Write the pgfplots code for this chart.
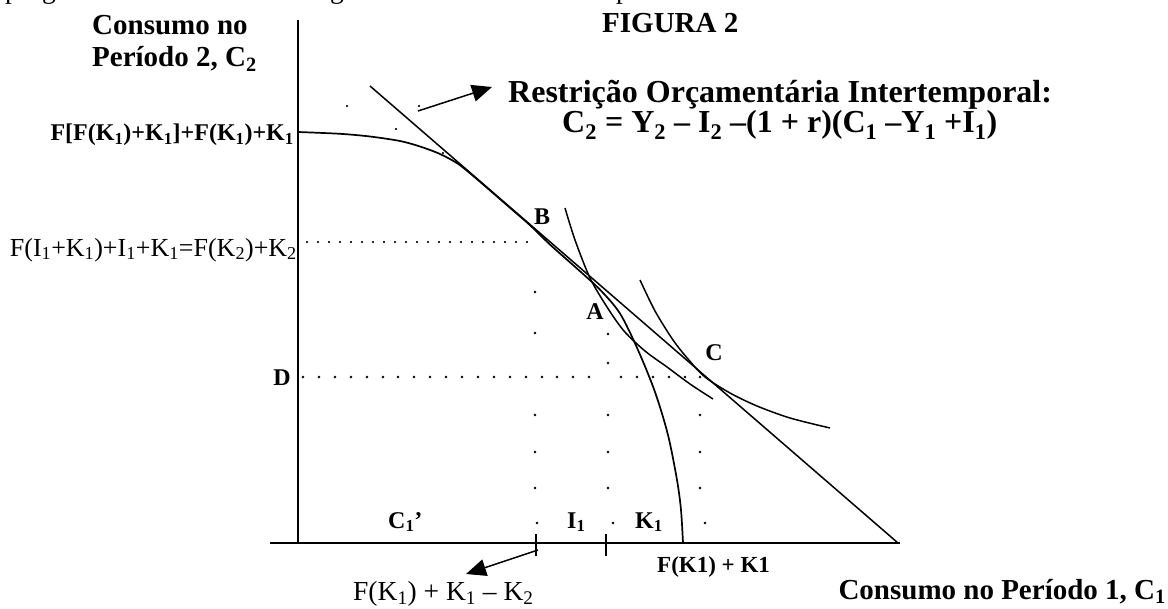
\documentclass[border=0pt]{standalone}
\usepackage{pgfplots}
\pgfplotsset{compat=1.18}
\usepackage{fontspec}
\setmainfont{Liberation Serif}
\usetikzlibrary{arrows.meta}
\newcommand\fa{\fontsize{29bp}{32bp}\selectfont\bfseries}
\newcommand\ft{\fontsize{32bp}{35bp}\selectfont\bfseries}
\newcommand\fb{\fontsize{24bp}{27bp}\selectfont\bfseries}
\newcommand\fr{\fontsize{27.5bp}{30bp}\selectfont}
\newcommand\sub[1]{\textsubscript{#1}}
\begin{document}
\begin{tikzpicture}
\begin{axis}[at={(0,0)}, anchor=south west, scale only axis,
  width=1168bp, height=609bp, xmin=0, xmax=1168, ymin=0, ymax=609,
  y dir=reverse, hide axis, clip=false]
% axes
\addplot[black, line width=1.8bp] coordinates {(298,20) (298,543)};
\addplot[black, line width=1.8bp] coordinates {(270,543) (900,543)};
% ticks
\addplot[black, line width=1.6bp] coordinates {(536,534) (536,556)};
\addplot[black, line width=1.6bp] coordinates {(606,534) (606,556)};
% budget line
\addplot[black, line width=1.5bp] coordinates {(370,86) (898,543)};
% production frontier
\addplot[black, line width=1.7bp, smooth] coordinates {
 (298,132) (340,133.8) (370,136.5) (400,141) (420,146.5) (440,154) (458,163.8)
 (475,177.5) (490,190.4) (510,207.8) (530,225.2) (550,244.6) (575,266.8)
 (600,289.7) (620,313.5) (638,350) (655,392) (668,435) (677,480) (681,510) (683,543)};
% indifference curve through A
\addplot[black, line width=1.5bp, smooth] coordinates {
 (565,208) (575,240) (590,278) (607,307) (624,331) (645,351) (667,367) (690,384) (713,399)};
% indifference curve through C
\addplot[black, line width=1.5bp, smooth] coordinates {
 (640,280) (655,311) (673,340) (688,359) (705,377) (730,393) (757,406) (790,418) (830,428)};
% dotted line at F(I1+K1)...
\addplot[only marks, mark=*, mark size=0.9bp, black] coordinates {
 (307,242) (318,242) (329,242) (340,242) (351,242) (362,242) (373,242) (384,242)
 (395,242) (406,242) (417,242) (428,242) (439,242) (450,242) (461,242) (472,242)
 (483,242) (494,242) (505,242) (516,242) (527,242)};
% dotted line at D
\addplot[only marks, mark=*, mark size=1.1bp, black] coordinates {
 (303,377) (319,377) (335,377) (351,377) (367,377) (383,377) (398,377) (414,377)
 (430,377) (446,377) (462,377) (478,377) (494,377) (510,377) (526,377) (542,377)
 (557,377) (573,377) (589,377) (621,377) (637,377) (653,377) (669,377) (685,377) (700,377)};
% vertical dotted columns
\addplot[only marks, mark=*, mark size=1.1bp, black] coordinates {
 (535,292) (535,333) (535,415) (535,452) (535,488) (537,523)
 (608,334) (608,363) (608,415) (608,452) (608,488) (613,523)
 (700,415) (700,452) (700,488) (705,523)};
% stray dots near the top
\addplot[only marks, mark=*, mark size=0.9bp, black] coordinates {
 (347,106) (419,106) (396,129) (443,153)};
% arrows
\draw[black, line width=1.5bp, -{Triangle[length=20bp,width=17bp]}] (418,111) -- (492,87);
\draw[black, line width=1.5bp, -{Triangle[length=20bp,width=17bp]}] (538,550) -- (466,574);
% fragments of the line of text above the figure
\node[anchor=base west, inner sep=0pt] at (5,-1) {\fr p};
\node[anchor=base west, inner sep=0pt] at (42,-1) {\fr g};
\node[anchor=base west, inner sep=0pt] at (330,-1) {\fr g};
\node[anchor=base west, inner sep=0pt] at (616,-1) {\fr p};
% texts
\node[anchor=base west, inner sep=0pt] at (92,35) {\fa Consumo no};
\node[anchor=base west, inner sep=0pt] at (92,67) {\fa Período 2, C\sub{2}};
\node[anchor=base west, inner sep=0pt] at (602,33) {\fa FIGURA 2};
\node[anchor=base west, inner sep=0pt] at (508,103) {\ft Restrição Orçamentária Intertemporal:};
\node[anchor=base west, inner sep=0pt] at (562,133) {\ft C\sub{2} = Y\sub{2} – I\sub{2} –(1 + r)(C\sub{1} –Y\sub{1} +I\sub{1})};
\node[anchor=base east, inner sep=0pt] at (294,141) {\fb F[F(K\sub{1})+K\sub{1}]+F(K\sub{1})+K\sub{1}};
\node[anchor=base east, inner sep=0pt] at (297,256) {\fontsize{26bp}{29bp}\selectfont F(I\sub{1}+K\sub{1})+I\sub{1}+K\sub{1}=F(K\sub{2})+K\sub{2}};
\node[anchor=base east, inner sep=0pt] at (291,385) {\fb D};
\node[inner sep=0pt] at (542,217) {\fb B};
\node[inner sep=0pt] at (595,312) {\fb A};
\node[inner sep=0pt] at (714,353) {\fb C};
\node[anchor=base west, inner sep=0pt] at (388,528) {\fb C\sub{1}’};
\node[anchor=base west, inner sep=0pt] at (567,528) {\fb I\sub{1}};
\node[anchor=base west, inner sep=0pt] at (635,528) {\fb K\sub{1}};
\node[anchor=base west, inner sep=0pt] at (657,572) {\fontsize{23bp}{26bp}\selectfont\bfseries F(K1) + K1};
\node[anchor=base west, inner sep=0pt] at (353,600) {\fr F(K\sub{1}) + K\sub{1} – K\sub{2}};
\node[anchor=base east, inner sep=0pt] at (1166,599) {\fa Consumo no Período 1, C\sub{1}};
\end{axis}
\pgfresetboundingbox
\path[use as bounding box] (0,0) rectangle (1168bp,609bp);
\end{tikzpicture}
\end{document}
